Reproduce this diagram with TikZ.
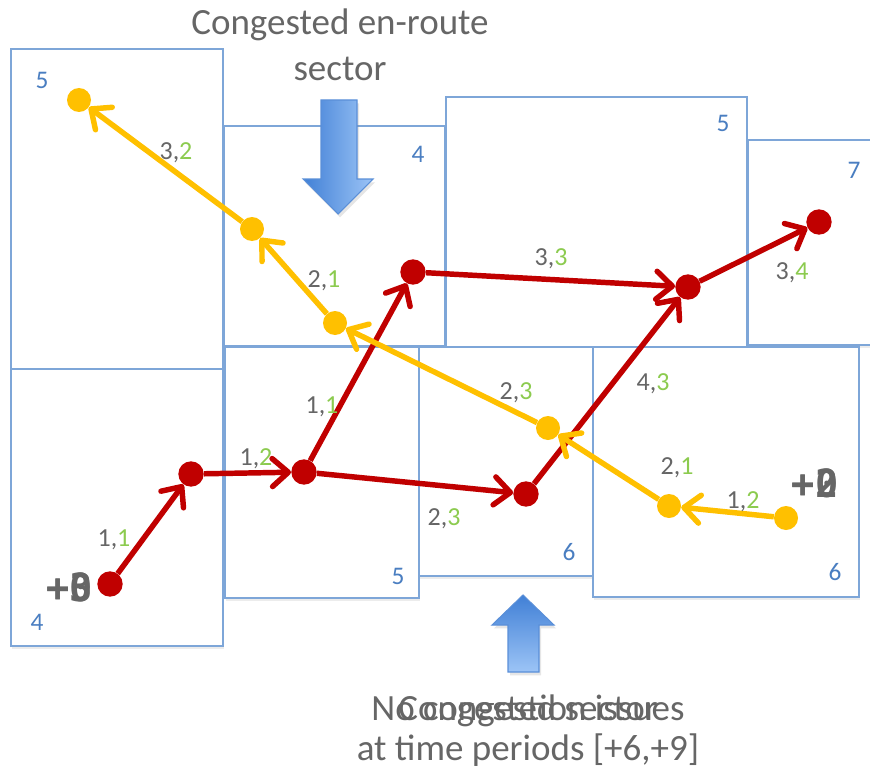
\documentclass[tikz,border=0pt]{standalone}
\usepackage{fontspec}
\setmainfont{Carlito}
\newfontfamily\monofam{DejaVu Sans Mono}
\usetikzlibrary{arrows.meta,shadows}
\definecolor{boxblue}{HTML}{7EA6D8}
\definecolor{numblue}{HTML}{4A7EC1}
\definecolor{txtgray}{HTML}{666666}
\definecolor{lblgreen}{HTML}{8CCB4F}
\definecolor{redpath}{HTML}{C00000}
\definecolor{yelpath}{HTML}{FFC000}
\definecolor{arrdark}{HTML}{4180D6}
\definecolor{arrlight}{HTML}{9CC4F6}
\definecolor{arredge}{HTML}{5A8FD8}
\newcommand\pairlab[2]{#1,\textcolor{lblgreen}{#2}}
\tikzset{
  sector/.style={draw=boxblue, line width=0.9pt, fill=white,
    drop shadow={opacity=0.15, shadow xshift=1pt, shadow yshift=-2.5pt}},
  bigarrow/.style={draw=arredge, line width=0.8pt,
    drop shadow={opacity=0.2, shadow xshift=1.5pt, shadow yshift=-2.5pt}},
  num/.style={font=\fontsize{19}{21}\selectfont, text=numblue, inner sep=0pt},
  lbl/.style={font=\fontsize{19.5}{22}\selectfont, text=txtgray, inner sep=0pt},
  bigtxt/.style={font=\monofam\bfseries\fontsize{29}{31}\selectfont, text=txtgray, inner sep=0pt},
  title/.style={font=\fontsize{27.75}{34.5}\selectfont, text=txtgray, align=center, inner sep=0pt},
  titleb/.style={font=\fontsize{27.75}{30}\selectfont, text=txtgray, align=center, inner sep=0pt},
  rdot/.style={circle, fill=redpath, inner sep=0pt, minimum size=19pt},
  ydot/.style={circle, fill=yelpath, inner sep=0pt, minimum size=18pt},
  redline/.style={draw=redpath, line width=4.1pt,
    -{Straight Barb[length=12pt,width=21pt,round]}},
  yelline/.style={draw=yelpath, line width=4.1pt,
    -{Straight Barb[length=12pt,width=21pt,round]}},
}
\begin{document}
\begin{tikzpicture}[x=0.75pt,y=-0.75pt]
\useasboundingbox (0,0) rectangle (870,770);
% sectors
\path[sector] (11,49) rectangle (223,369);
\path[sector] (11,369) rectangle (223,646);
\path[sector] (224,126) rectangle (445,346);
\path[sector] (446,97) rectangle (747,347);
\path[sector] (748,140) rectangle (880,345);
\path[sector] (225,347) rectangle (419,598);
\path[sector] (419,347) rectangle (593,576);
\path[sector] (593,347) rectangle (859,597);
% sector numbers
\node[num] (n1) at (42,80) {5};
\node[num] (n2) at (37,622) {4};
\node[num] (n3) at (418,154) {4};
\node[num] (n4) at (723,123) {5};
\node[num] (n5) at (854,170) {7};
\node[num] (n6) at (398,576) {5};
\node[num] (n7) at (569,552) {6};
\node[num] (n8) at (835,572) {6};
% blue arrows
\path[bigarrow, left color=arrdark, right color=arrlight]
  (321,100) -- (357,100) -- (357,179) -- (373,179) -- (338,214) -- (303,179) -- (321,179) -- cycle;
\path[bigarrow, top color=arrdark, bottom color=arrlight]
  (523,595) -- (554,625) -- (539,625) -- (539,672) -- (508,672) -- (508,625) -- (492,625) -- cycle;
% titles
\node[title] (t1) at (340,45) {Congested en-route\\sector};
\node[titleb] (t2) at (528,731) {No congestion issues\\at time periods [+6,+9]};
\node[titleb] (t3) at (528,711) {Congested sector};
% big offsets
\node[bigtxt] (b1) at (70,587) {+0};
\node[bigtxt] (b2) at (70,587) {+3};
\node[bigtxt] (b3) at (815,483) {+0};
\node[bigtxt] (b4) at (815,483) {+2};
% red path
\node[rdot] (r1) at (110,584) {};
\node[rdot] (r2) at (191,474) {};
\node[rdot] (r3) at (304,472) {};
\node[rdot] (r4) at (413,272) {};
\node[rdot] (r5) at (526,494) {};
\node[rdot] (r6) at (688,287) {};
\node[rdot] (r7) at (819,222) {};
\draw[redline] (r1) -- (r2);
\draw[redline] (r2) -- (r3);
\draw[redline] (r3) -- (r4);
\draw[redline] (r3) -- (r5);
\draw[redline] (r4) -- (r6);
\draw[redline] (r5) -- (r6);
\draw[redline] (r6) -- (r7);
% yellow path
\node[ydot] (y1) at (786,518) {};
\node[ydot] (y2) at (669,506) {};
\node[ydot] (y3) at (548,428) {};
\node[ydot] (y4) at (335,323) {};
\node[ydot] (y5) at (252,229) {};
\node[ydot] (y6) at (79,100) {};
\draw[yelline] (y1) -- (y2);
\draw[yelline] (y2) -- (y3);
\draw[yelline] (y3) -- (y4);
\draw[yelline] (y4) -- (y5);
\draw[yelline] (y5) -- (y6);
% edge labels
\node[lbl] (l1) at (114,540) {\pairlab{1}{1}};
\node[lbl] (l2) at (256,459) {\pairlab{1}{2}};
\node[lbl] (l3) at (322,407) {\pairlab{1}{1}};
\node[lbl] (l4) at (444,519) {\pairlab{2}{3}};
\node[lbl] (l5) at (551,259) {\pairlab{3}{3}};
\node[lbl] (l6) at (653,384) {\pairlab{4}{3}};
\node[lbl] (l7) at (792,273) {\pairlab{3}{4}};
\node[lbl] (l8) at (743,502) {\pairlab{1}{2}};
\node[lbl] (l9) at (677,468) {\pairlab{2}{1}};
\node[lbl] (l10) at (516,393) {\pairlab{2}{3}};
\node[lbl] (l11) at (324,281) {\pairlab{2}{1}};
\node[lbl] (l12) at (176,153) {\pairlab{3}{2}};
\end{tikzpicture}
\end{document}
